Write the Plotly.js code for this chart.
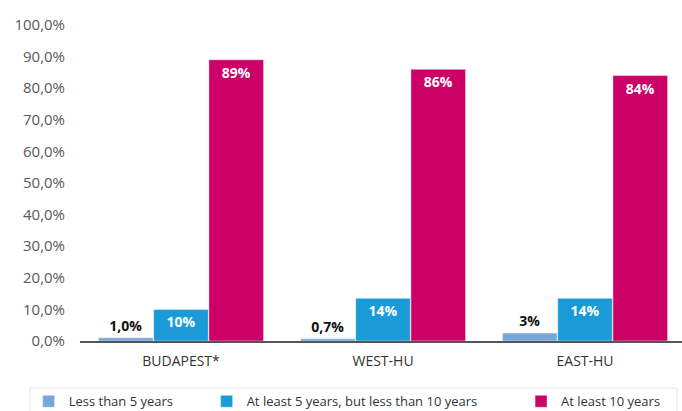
<!DOCTYPE html>
<html>
<head>
<meta charset="utf-8">
<script src="https://cdn.plot.ly/plotly-3.0.1.min.js"></script>
<style>
  body { margin: 0; }
  #plot { width: 682px; height: 411px; }
</style>
</head>
<body>
<div id="plot"></div>
<script>
var regions = ["BUDAPEST*", "WEST-HU", "EAST-HU"];

var lessThan5 = [1.0, 0.7, 2.5];
var lessThan5Labels = ["1,0%", "0,7%", "3%"];

var from5to10 = [10, 13.5, 13.5];
var from5to10Labels = ["10%", "14%", "14%"];

var atLeast10 = [89, 86, 84];
var atLeast10Labels = ["89%", "86%", "84%"];

var labelFont = { family: "Open Sans, sans-serif", size: 14, color: "#ffffff", weight: "bold" };
var barEdge = { color: "rgba(255,255,255,0.45)", width: 1 };

var trace1 = {
  x: regions,
  y: lessThan5,
  name: "Less than 5 years",
  type: "bar",
  legend: "legend",
  marker: { color: "#74a7dc", line: barEdge },
  text: lessThan5Labels,
  textposition: "outside",
  cliponaxis: false,
  textfont: { family: "Open Sans, sans-serif", size: 14, color: "#111111", weight: "bold" },
  hoverinfo: "none"
};

var trace2 = {
  x: regions,
  y: from5to10,
  name: "At least 5 years, but less than 10 years",
  type: "bar",
  legend: "legend2",
  marker: { color: "#1a9bd7", line: barEdge },
  text: from5to10Labels,
  textposition: "inside",
  insidetextanchor: "end",
  textangle: 0,
  textfont: labelFont,
  hoverinfo: "none"
};

var trace3 = {
  x: regions,
  y: atLeast10,
  name: "At least 10 years",
  type: "bar",
  legend: "legend3",
  marker: { color: "#cc0066", line: barEdge },
  text: atLeast10Labels,
  textposition: "inside",
  insidetextanchor: "end",
  textangle: 0,
  textfont: labelFont,
  hoverinfo: "none"
};

var legendFont = { family: "Open Sans, sans-serif", size: 13, color: "#333333" };
function legendAt(x) {
  return {
    orientation: "h",
    xref: "container", yref: "container",
    x: x, xanchor: "left",
    y: 0.06, yanchor: "top",
    font: legendFont,
    bgcolor: "rgba(0,0,0,0)"
  };
}

var layout = {
  width: 682,
  height: 411,
  margin: { l: 80, r: 0, t: 25, b: 70, autoexpand: false },
  paper_bgcolor: "#ffffff",
  plot_bgcolor: "#ffffff",
  separators: ",.",
  barmode: "group",
  bargap: 0.18,
  bargroupgap: 0.01,
  showlegend: true,
  legend: legendAt(0.042),
  legend2: legendAt(0.303),
  legend3: legendAt(0.764),
  xaxis: {
    range: [-0.5, 2.48],
    showgrid: false,
    showline: true,
    linecolor: "#555555",
    linewidth: 2,
    ticks: "",
    ticklabelstandoff: 6,
    tickfont: { family: "Open Sans, sans-serif", size: 14, color: "#333333" },
    fixedrange: true
  },
  yaxis: {
    range: [0, 100],
    dtick: 10,
    tickformat: ".1f",
    ticksuffix: "%",
    showgrid: false,
    zeroline: false,
    showline: false,
    ticks: "",
    ticklabelstandoff: 14,
    tickfont: { family: "Open Sans, sans-serif", size: 15, color: "#595959" },
    fixedrange: true
  },
  shapes: [{
    type: "rect",
    xref: "paper", yref: "paper",
    x0: -0.083, x1: 0.9917,
    y0: -0.149, y1: -0.3,
    line: { color: "#e6e6e6", width: 1 },
    fillcolor: "rgba(0,0,0,0)",
    layer: "below"
  }]
};

Plotly.newPlot("plot", [trace1, trace2, trace3], layout, { displayModeBar: false, staticPlot: true });
</script>
</body>
</html>
